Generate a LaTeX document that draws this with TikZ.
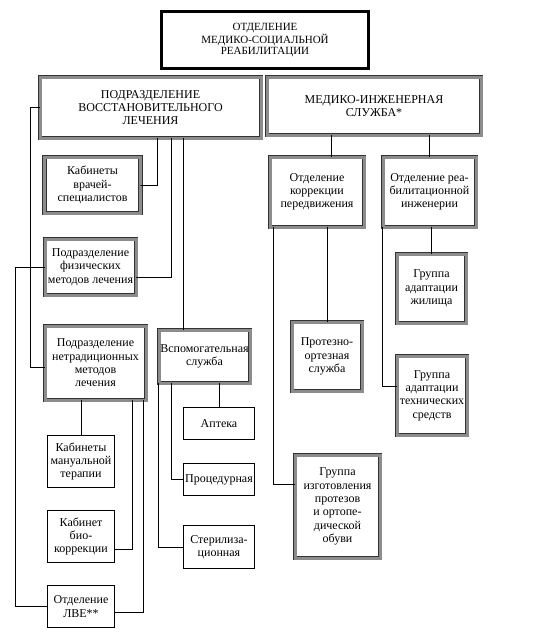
\documentclass[tikz,border=0pt]{standalone}
\usepackage{fontspec}
\setmainfont{Liberation Serif}
\begin{document}
\begin{tikzpicture}[x=1pt, y=-1pt, font=\fontsize{12}{13.3}\selectfont, line cap=round,
  link/.style={draw=black, line width=0.7pt},
  unit/.style={draw=black!80, double=black!45, double distance=3pt, line width=0.6pt,
    fill=white, align=center, inner sep=1pt},
  cell/.style={draw=black, line width=0.8pt, fill=white, align=center, inner sep=1pt}]
  \useasboundingbox (0,0) rectangle (537,640);

  \node[draw=black, line width=3pt, minimum width=207pt, minimum height=57pt, align=center,
    font=\fontsize{11}{11.5}\selectfont] (dept) at (265,40)
    {ОТДЕЛЕНИЕ\\МЕДИКО-СОЦИАЛЬНОЙ\\РЕАБИЛИТАЦИИ};
  \node[unit, minimum width=221pt, minimum height=61pt] (vos) at (150.5,107.5)
    {ПОДРАЗДЕЛЕНИЕ\\ВОССТАНОВИТЕЛЬНОГО\\ЛЕЧЕНИЯ};
  \node[unit, minimum width=214pt, minimum height=58pt] (mis) at (374,106)
    {МЕДИКО-ИНЖЕНЕРНАЯ\\СЛУЖБА*};

  \node[unit, minimum width=96pt, minimum height=56pt] (vrach) at (92.5,185)
    {Кабинеты\\врачей-\\специалистов};
  \node[unit, minimum width=91pt, minimum height=56pt] (phys) at (90.5,267)
    {Подразделение\\физических\\методов лечения};
  \node[unit, minimum width=101pt, minimum height=74pt] (netrad) at (95.5,363)
    {Подразделение\\нетрадиционных\\методов\\лечения};
  \node[unit, minimum width=91pt, minimum height=53pt] (vspom) at (204.5,356.5)
    {Вспомогательная\\служба};

  \node[cell, minimum width=67pt, minimum height=52pt] (manual) at (81,461.5)
    {Кабинеты\\мануальной\\терапии};
  \node[cell, minimum width=67pt, minimum height=52pt] (bio) at (81,536.5)
    {Кабинет\\био-\\коррекции};
  \node[cell, minimum width=67pt, minimum height=42pt] (lve) at (81,606.5)
    {Отделение\\ЛВЕ**};
  \node[cell, minimum width=71pt, minimum height=32pt] (apteka) at (219,423.5) {Аптека};
  \node[cell, minimum width=71pt, minimum height=32pt] (proc) at (219,479.5) {Процедурная};
  \node[cell, minimum width=71pt, minimum height=43pt] (steril) at (219,547)
    {Стерилиза-\\ционная};

  \node[unit, minimum width=94pt, minimum height=70pt] (korr) at (317,192)
    {Отделение\\коррекции\\передвижения};
  \node[unit, minimum width=93pt, minimum height=70pt] (inzh) at (429.5,192)
    {Отделение реа-\\билитационной\\инженерии};
  \node[unit, minimum width=70pt, minimum height=69pt] (protez) at (327,356.5)
    {Протезно-\\ортезная\\служба};
  \node[unit, minimum width=85pt, minimum height=103pt] (izgot) at (337.5,506.5)
    {Группа\\изготовления\\протезов\\и ортопе-\\дической\\обуви};
  \node[unit, minimum width=69pt, minimum height=69pt] (zhil) at (431.5,288.5)
    {Группа\\адаптации\\жилища};
  \node[unit, minimum width=70pt, minimum height=79pt] (tech) at (432,395.5)
    {Группа\\адаптации\\технических\\средств};

  \foreach \child/\parent in {manual/netrad, apteka/vspom, protez/korr, inzh/mis, zhil/inzh}
    \draw[link] (\child.north) -- (\child.north |- \parent.south);

  \draw[link] ([xshift=14pt]korr.north) -- ([xshift=14pt]korr.north |- mis.south);
  \draw[link] ([xshift=32.5pt]vos.south) -- ([xshift=32.5pt]vos.south |- vspom.north);
  \draw[link] (vrach.east) -| ([xshift=6.5pt]vos.south);
  \draw[link] ([yshift=-10pt]phys.east) -| ([xshift=20.5pt]vos.south);
  \draw[link] (vos.west) -- ++(-9,0) |- ([yshift=-4pt]netrad.west);
  \draw[link] (phys.west) -- ++(-29,0) |- (lve.west);

  \draw[link] ([yshift=-12.5pt]bio.east) -| ([xshift=36.5pt]netrad.south);
  \draw[link] ([yshift=-5.5pt]lve.east) -| ([xshift=47.5pt]netrad.south);
  \draw[link] (proc.west) -| ([xshift=-33.5pt]vspom.south);
  \draw[link] (steril.west) -| ([xshift=-46.5pt]vspom.south);

  \draw[link] ([yshift=22.5pt]izgot.west) -| ([xshift=-44pt]korr.south);
  \draw[link] ([yshift=9.5pt]tech.west) -| ([xshift=-47.5pt]inzh.south);
\end{tikzpicture}
\end{document}
